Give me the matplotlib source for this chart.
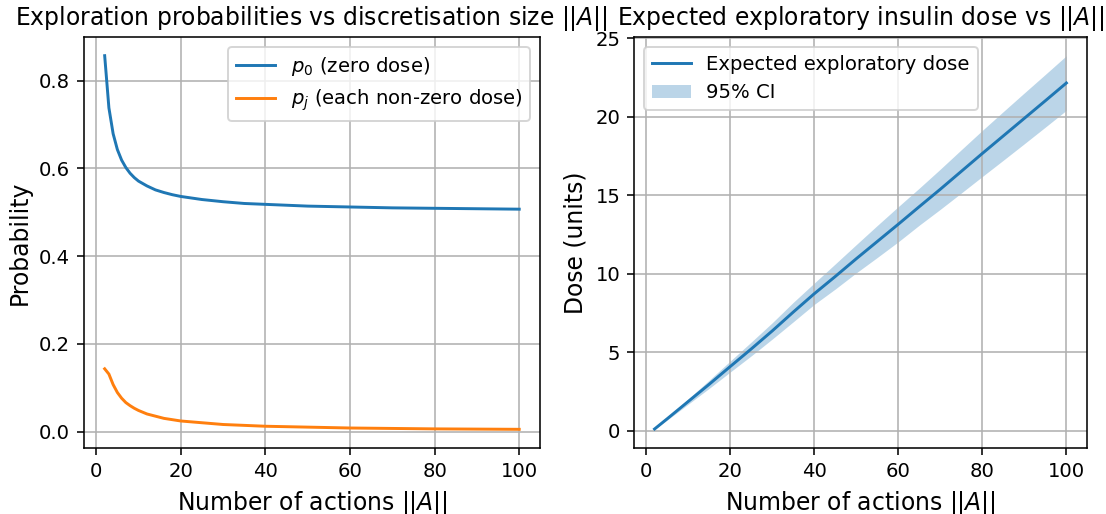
import matplotlib
matplotlib.use("Agg")
import matplotlib.pyplot as plt

# values
n_actions = [2, 3, 4, 5, 6, 7, 8, 9, 10, 12, 14, 16, 18, 20, 25, 30, 35, 40, 50, 60, 70, 80, 90, 100]
p_zero = [0.857, 0.738, 0.679, 0.643, 0.619, 0.602, 0.589, 0.579, 0.571, 0.560, 0.551, 0.545,
          0.540, 0.536, 0.529, 0.524, 0.520, 0.518, 0.514, 0.512, 0.510, 0.509, 0.508, 0.507]
p_each = [0.143, 0.131, 0.107, 0.089, 0.076, 0.066, 0.059, 0.053, 0.048, 0.040, 0.035, 0.030,
          0.027, 0.024, 0.020, 0.016, 0.014, 0.012, 0.010, 0.008, 0.007, 0.006, 0.0055, 0.005]

n_dose = [2, 5, 10, 15, 20, 25, 30, 35, 40, 45, 50, 55, 60, 65, 70, 75, 80, 85, 90, 95, 100]
dose_mean = [0.10, 0.75, 1.85, 2.95, 4.08, 5.20, 6.35, 7.55, 8.72, 9.82, 10.95, 12.05, 13.15,
             14.27, 15.38, 16.52, 17.66, 18.78, 19.90, 21.02, 22.15]
dose_lo = [0.08, 0.67, 1.68, 2.69, 3.73, 4.76, 5.83, 6.93, 8.04, 9.02, 10.05, 11.03, 12.03,
           13.09, 14.10, 15.14, 16.19, 17.23, 18.28, 19.34, 20.41]
dose_hi = [0.12, 0.83, 2.02, 3.21, 4.43, 5.64, 6.87, 8.17, 9.40, 10.62, 11.85, 13.07, 14.27,
           15.45, 16.66, 17.90, 19.13, 20.33, 21.52, 22.70, 23.89]

dpi = 141
fig = plt.figure(figsize=(1106 / dpi, 514 / dpi), dpi=dpi)
matplotlib.rcParams.update({'font.size': 10})

# left: exploration probabilities
ax = fig.add_axes([0.0759, 0.1284, 0.4123, 0.7996])
ax.plot(n_actions, p_zero, color='C0', lw=1.5, label=r'$p_0$ (zero dose)')
ax.plot(n_actions, p_each, color='C1', lw=1.5, label=r'$p_j$ (each non-zero dose)')
ax.set_title(r'Exploration probabilities vs discretisation size $||A||$', fontsize=12)
ax.set_xlabel(r'Number of actions $||A||$', fontsize=12)
ax.set_ylabel('Probability', fontsize=12)
ax.legend(loc='upper right')
ax.grid(True)

# right: expected dose
ax = fig.add_axes([0.5732, 0.1284, 0.4096, 0.7996])
ax.plot(n_dose, dose_mean, color='C0', lw=1.5, label='Expected exploratory dose')
ax.fill_between(n_dose, dose_lo, dose_hi, color='C0', alpha=0.3, lw=0, label='95% CI')
ax.set_title(r'Expected exploratory insulin dose vs $||A||$', fontsize=12)
ax.set_xlabel(r'Number of actions $||A||$', fontsize=12)
ax.set_ylabel('Dose (units)', fontsize=12)
ax.legend(loc='upper left')
ax.grid(True)

fig.savefig('out.png', dpi=dpi)
